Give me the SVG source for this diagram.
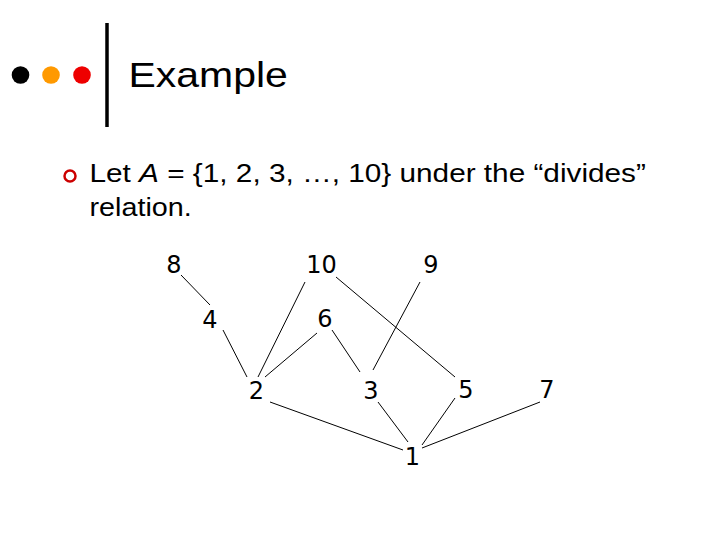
<svg xmlns="http://www.w3.org/2000/svg" width="720" height="540" viewBox="0 0 720 540">
<style>
.title{font-family:"Liberation Sans",Arial,sans-serif;font-size:35px;fill:#000}
.body{font-family:"Liberation Sans",Arial,sans-serif;font-size:25px;fill:#000}
.num{font-family:"DejaVu Sans",Verdana,sans-serif;font-size:24px;fill:#000;text-anchor:middle}
.edge{stroke:#000;stroke-width:1;fill:none}
</style>
<rect width="720" height="540" fill="#fff"/>
<g id="header">
<circle cx="20.5" cy="75" r="8.8" fill="#000"/>
<circle cx="51" cy="75" r="8.8" fill="#f90"/>
<circle cx="82" cy="75" r="8.8" fill="#e00"/>
<line x1="107" y1="23" x2="107" y2="127" stroke="#000" stroke-width="3.5"/>
<text class="title" transform="translate(128.5,87) scale(1.17,1)">Example</text>
</g>
<g id="bullet">
<circle cx="70" cy="176" r="5.5" fill="none" stroke="#c00" stroke-width="2.5"/>
<text class="body" transform="translate(89.5,182) scale(1.19,1)">Let <tspan font-style="italic">A</tspan> = {1, 2, 3, …, 10} under the “divides”</text>
<text class="body" transform="translate(89.5,216) scale(1.15,1)">relation.</text>
</g>
<g id="connectors">
<line class="edge" x1="181" y1="275" x2="210" y2="305"/>
<line class="edge" x1="223" y1="330" x2="247" y2="377"/>
<line class="edge" x1="305" y1="282" x2="258" y2="377"/>
<line class="edge" x1="317" y1="333" x2="265" y2="377"/>
<line class="edge" x1="332" y1="330" x2="360" y2="372"/>
<line class="edge" x1="420" y1="282" x2="373" y2="370"/>
<line class="edge" x1="336" y1="277" x2="455" y2="377"/>
<line class="edge" x1="270" y1="402" x2="403" y2="450"/>
<line class="edge" x1="378" y1="402" x2="408" y2="442"/>
<line class="edge" x1="455" y1="398" x2="422" y2="445"/>
<line class="edge" x1="540" y1="402" x2="422" y2="448"/>
</g>
<g id="n8"><text class="num" x="174" y="273">8</text></g>
<g id="n10"><text class="num" x="321.5" y="273">10</text></g>
<g id="n9"><text class="num" x="431" y="273">9</text></g>
<g id="n4"><text class="num" x="210" y="328">4</text></g>
<g id="n6"><text class="num" x="325" y="327">6</text></g>
<g id="n2"><text class="num" x="256.5" y="399">2</text></g>
<g id="n3"><text class="num" x="371" y="399">3</text></g>
<g id="n5"><text class="num" x="466" y="398">5</text></g>
<g id="n7"><text class="num" x="547" y="398">7</text></g>
<g id="n1"><text class="num" x="412.5" y="465">1</text></g>
</svg>
